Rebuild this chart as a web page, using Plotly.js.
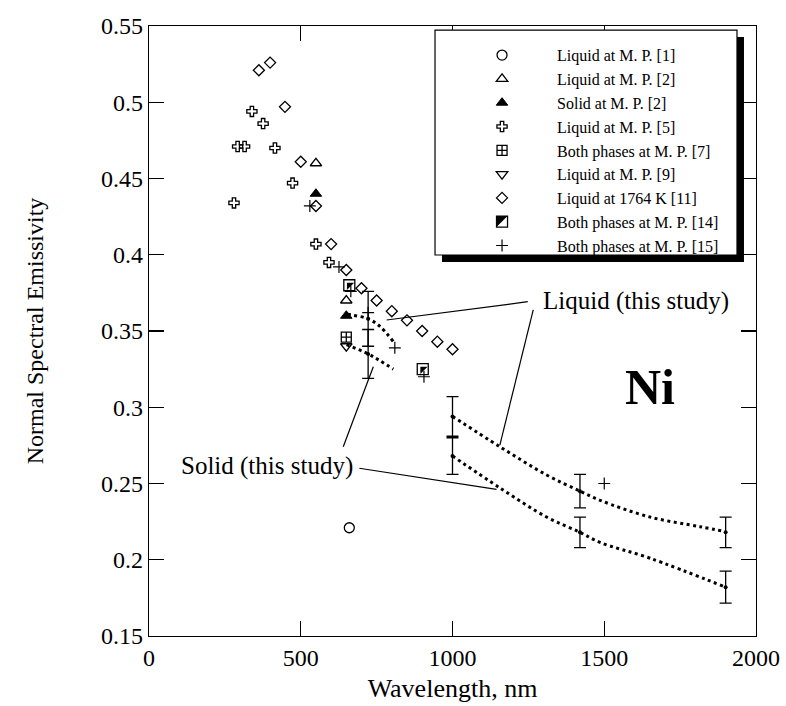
<!DOCTYPE html>
<html>
<head>
<meta charset="utf-8">
<script src="https://cdn.plot.ly/plotly-3.0.1.min.js"></script>
<style>html,body{margin:0;padding:0;background:#fff;}#chart{width:786px;height:706px;}</style>
</head>
<body>
<div id="chart"></div>
<script>
// ---- data ----
var legendNames = ["Liquid at M. P. [1]", "Liquid at M. P. [2]", "Solid at M. P. [2]", "Liquid at M. P. [5]",
  "Both phases at M. P. [7]", "Liquid at M. P. [9]", "Liquid at 1764 K [11]", "Both phases at M. P. [14]", "Both phases at M. P. [15]"];

var ref1X = [660];                 var ref1Y = [0.221];
var ref2LiqX = [550, 650];         var ref2LiqY = [0.460, 0.370];
var ref2SolX = [550, 650];         var ref2SolY = [0.440, 0.360];
var ref5X = [280, 292, 315, 339, 376, 415, 473, 550, 593];
var ref5Y = [0.434, 0.471, 0.471, 0.494, 0.486, 0.470, 0.447, 0.407, 0.395];
var ref7X = [650];                 var ref7Y = [0.346];
var ref9X = [650];                 var ref9Y = [0.340];
var ref11X = [362, 399, 448, 500, 550, 600, 650, 700, 750, 800, 850, 900, 950, 1000];
var ref11Y = [0.521, 0.526, 0.497, 0.461, 0.432, 0.407, 0.390, 0.378, 0.370, 0.363, 0.357, 0.350, 0.343, 0.338];
var ref14X = [660, 902];           var ref14Y = [0.380, 0.325];
var ref15X = [530, 626, 665, 722, 810, 906, 1500];
var ref15Y = [0.432, 0.392, 0.376, 0.362, 0.339, 0.320, 0.250];

// this study: points with uncertainty
var liqStudyX = [722, 1000, 1420, 1900];
var liqStudyY = [0.358, 0.294, 0.245, 0.218];
var liqStudyErr = [0.018, 0.013, 0.011, 0.010];
var solStudyX = [722, 1000, 1420, 1900];
var solStudyY = [0.335, 0.268, 0.218, 0.182];
var solStudyErr = [0.016, 0.012, 0.010, 0.0105];

// this study: dotted curves
var liqCurveAX = [655, 668, 722, 761, 805];
var liqCurveAY = [0.361, 0.3605, 0.358, 0.353, 0.343];
var solCurveAX = [651, 722, 761, 805];
var solCurveAY = [0.341, 0.335, 0.3305, 0.325];
var liqCurveBX = [1000, 1157, 1310, 1420, 1486, 1651, 1815, 1900];
var liqCurveBY = [0.294, 0.274, 0.2556, 0.245, 0.239, 0.228, 0.2217, 0.2184];
var solCurveBX = [1000, 1157, 1310, 1420, 1486, 1651, 1900];
var solCurveBY = [0.268, 0.247, 0.228, 0.218, 0.2114, 0.201, 0.182];

var xTicks = [0, 500, 1000, 1500, 2000];
var yTicks = [0.15, 0.2, 0.25, 0.3, 0.35, 0.4, 0.45, 0.5, 0.55];

// ---- drawing ----
var FONT = "'Liberation Serif', 'Times New Roman', serif";
var BL = {color: 'black', width: 1.3};
function mk(sym, size, fill) {
  return {symbol: sym, size: size, color: fill || 'white', line: BL};
}
var DOT = {shape: 'spline', color: 'black', width: 3, dash: '3px,3.5px'};
var traces = [
  {x: ref1X, y: ref1Y, name: legendNames[0], mode: 'markers', marker: mk('circle-open', 10, 'black')},
  {x: ref2LiqX, y: ref2LiqY, name: legendNames[1], mode: 'markers', marker: mk('triangle-up-open', 10, 'black')},
  {x: ref2SolX, y: ref2SolY, name: legendNames[2], mode: 'markers', marker: {symbol: 'triangle-up', size: 10, color: 'black', line: {color: 'black', width: 1}}},
  {x: ref5X, y: ref5Y, name: legendNames[3], mode: 'markers', marker: mk('cross-open', 8.5, 'black')},
  {x: ref7X, y: ref7Y, name: legendNames[4], mode: 'markers', marker: mk('square-cross-open', 10, 'black')},
  {x: ref9X, y: ref9Y, name: legendNames[5], mode: 'markers', marker: mk('triangle-down-open', 10, 'black')},
  {x: ref11X, y: ref11Y, name: legendNames[6], mode: 'markers', marker: mk('diamond-open', 8.5, 'black')},
  {x: ref14X, y: ref14Y, name: legendNames[7], mode: 'markers', marker: mk('square-open', 11, 'black')},
  {x: ref15X, y: ref15Y, name: legendNames[8], mode: 'markers', marker: {symbol: 'cross-thin-open', size: 8.5, color: 'black', line: {color: 'black', width: 1.2}}},
  {x: ref14X, y: ref14Y, showlegend: false, mode: 'markers', marker: {symbol: 'triangle-nw', size: 8, color: 'black', line: {width: 0}}},
  {x: liqCurveAX, y: liqCurveAY, showlegend: false, mode: 'lines', line: DOT},
  {x: solCurveAX, y: solCurveAY, showlegend: false, mode: 'lines', line: DOT},
  {x: liqCurveBX, y: liqCurveBY, showlegend: false, mode: 'lines', line: DOT},
  {x: solCurveBX, y: solCurveBY, showlegend: false, mode: 'lines', line: DOT},
  {x: liqStudyX, y: liqStudyY, showlegend: false, mode: 'markers', marker: {symbol: 'circle', size: 4, color: 'black'},
   error_y: {type: 'data', array: liqStudyErr, visible: true, color: 'black', thickness: 1.3, width: 6}},
  {x: solStudyX, y: solStudyY, showlegend: false, mode: 'markers', marker: {symbol: 'circle', size: 4, color: 'black'},
   error_y: {type: 'data', array: solStudyErr, visible: true, color: 'black', thickness: 1.3, width: 6}}
];
traces.forEach(function (t) { t.type = 'scatter'; t.hoverinfo = 'skip'; });

function ln(x0, y0, x1, y1) {
  return {type: 'line', xref: 'x', yref: 'y', x0: x0, y0: y0, x1: x1, y1: y1, line: {color: 'black', width: 1.2}};
}
var shapes = [
  // legend drop shadow and box
  {type: 'rect', xref: 'paper', yref: 'paper', x0: 0.4827, x1: 0.9802, y0: 0.6131, y1: 0.9820, fillcolor: 'black', line: {width: 0}, layer: 'above'},
  {type: 'rect', xref: 'paper', yref: 'paper', x0: 0.4712, x1: 0.9687, y0: 0.6246, y1: 0.9934, fillcolor: 'white', line: {color: 'black', width: 1.2}, layer: 'above'},
  // black half of the legend symbol for [14]
  {type: 'path', xref: 'paper', yref: 'paper', path: 'M0.5725,0.6884 L0.5906,0.6884 L0.5725,0.6703 Z', fillcolor: 'black', line: {width: 0}, layer: 'above'},
  // leader lines
  ln(1248, 0.3692, 783, 0.3572),
  ln(1266, 0.3638, 1156, 0.2752),
  ln(693, 0.2600, 1145, 0.2462),
  ln(640, 0.2741, 739, 0.3266)
];

var annotations = [
  {x: 1291, y: 0.370, xref: 'x', yref: 'y', text: 'Liquid (this study)', showarrow: false, xanchor: 'left', yanchor: 'middle',
   font: {family: FONT, size: 25, color: 'black'}},
  {x: 679, y: 0.2615, xref: 'x', yref: 'y', text: 'Solid (this study)', showarrow: false, xanchor: 'right', yanchor: 'middle',
   font: {family: FONT, size: 25, color: 'black'}},
  {x: 1652, y: 0.3135, xref: 'x', yref: 'y', text: '<b>Ni</b>', showarrow: false, xanchor: 'center', yanchor: 'middle',
   font: {family: FONT, size: 50, color: 'black'}}
];

var axisCommon = {
  showgrid: false, zeroline: false, showline: true, linecolor: 'black', linewidth: 1.2, mirror: 'ticks',
  ticks: 'inside', ticklen: 15, tickwidth: 1.2, tickcolor: 'black',
  tickfont: {family: FONT, size: 24, color: 'black'}
};
var layout = {
  width: 786, height: 706,
  margin: {l: 149, r: 30, t: 26, b: 70},
  paper_bgcolor: 'white', plot_bgcolor: 'white',
  font: {family: FONT, color: 'black'},
  xaxis: Object.assign({}, axisCommon, {range: [0, 2000], tickvals: xTicks, ticktext: xTicks.map(String),
    title: {text: 'Wavelength, nm', font: {family: FONT, size: 26, color: 'black'}, standoff: 8}}),
  yaxis: Object.assign({}, axisCommon, {range: [0.15, 0.55], tickvals: yTicks, ticktext: yTicks.map(String),
    title: {text: 'Normal Spectral Emissivity', font: {family: FONT, size: 24, color: 'black'}, standoff: 50}}),
  showlegend: true,
  legend: {x: 0.491, y: 0.980, xanchor: 'left', yanchor: 'top', bgcolor: 'rgba(0,0,0,0)', borderwidth: 0,
    itemwidth: 100, font: {family: FONT, size: 16, color: 'black'}, traceorder: 'normal', itemclick: false},
  shapes: shapes,
  annotations: annotations
};
Plotly.newPlot('chart', traces, layout, {staticPlot: true});
</script>
</body>
</html>
